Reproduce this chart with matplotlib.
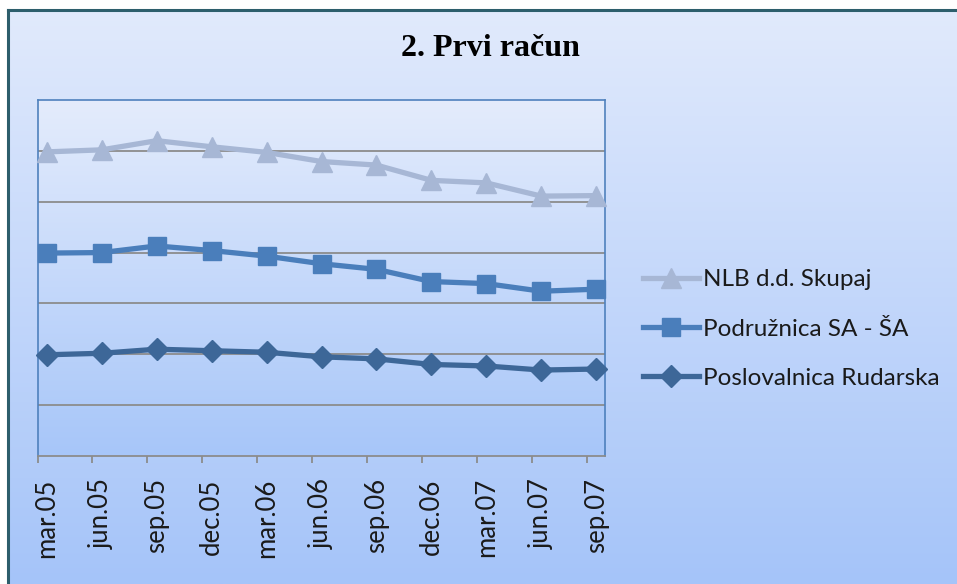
import numpy as np
import matplotlib
matplotlib.use("Agg")
import matplotlib.pyplot as plt
from matplotlib.colors import LinearSegmentedColormap

categories = ["mar.05", "jun.05", "sep.05", "dec.05", "mar.06", "jun.06",
              "sep.06", "dec.06", "mar.07", "jun.07", "sep.07"]
nlb = [5.98, 6.02, 6.20, 6.08, 5.97, 5.79, 5.72, 5.42, 5.37, 5.11, 5.12]
podruznica = [3.99, 4.00, 4.13, 4.04, 3.93, 3.78, 3.67, 3.43, 3.39, 3.24, 3.28]
rudarska = [1.99, 2.02, 2.10, 2.07, 2.04, 1.95, 1.91, 1.80, 1.77, 1.69, 1.71]
series_names = ["NLB d.d. Skupaj", "Podružnica SA - ŠA", "Poslovalnica Rudarska"]
title = "2. Prvi račun"

W, H = 957, 584
fig = plt.figure(figsize=(W / 100, H / 100), dpi=100)
fig.patch.set_facecolor("white")

# outer chart background with gradient
bg_ax = fig.add_axes([8 / W, 0, 1 - 8 / W, (H - 10) / H])
bg_cmap = LinearSegmentedColormap.from_list("bg", ["#E1EAFC", "#A5C4F9"])
bg_ax.imshow(np.linspace(0, 1, 256).reshape(-1, 1), aspect="auto", cmap=bg_cmap,
             extent=[0, 1, 0, 1], origin="upper")
bg_ax.set_xlim(0, 1)
bg_ax.set_ylim(0, 1)
bg_ax.set_xticks([])
bg_ax.set_yticks([])
for s in ["right", "bottom"]:
    bg_ax.spines[s].set_visible(False)
for s in ["left", "top"]:
    bg_ax.spines[s].set_color("#2D5E6C")
    bg_ax.spines[s].set_linewidth(2.2)

# plot area
left, right, top, bottom = 37.5, 605, 100, 456
ax = fig.add_axes([left / W, (H - bottom) / H, (right - left) / W, (bottom - top) / H])
ax.set_zorder(2)
x = np.arange(len(categories))
ax.set_xlim(-0.17, 10.16)
ax.set_ylim(0, 7)
pa_cmap = LinearSegmentedColormap.from_list("pa", ["#E4ECFC", "#A7C6F9"])
ax.imshow(np.linspace(0, 1, 256).reshape(-1, 1), aspect="auto", cmap=pa_cmap,
          extent=[-0.17, 10.16, 0, 7], origin="upper", zorder=0)
ax.set_facecolor("none")

for yv in range(1, 7):
    ax.axhline(yv, color="#8C8C8C", lw=1.3, zorder=1)

ax.plot(x, nlb, color="#A7B7D5", lw=3.8, marker="^", ms=14, mec="#A7B7D5",
        mfc="#A7B7D5", label=series_names[0], zorder=3, clip_on=False)
ax.plot(x, podruznica, color="#4A7EBB", lw=3.8, marker="s", ms=13, mec="#4A7EBB",
        mfc="#4A7EBB", label=series_names[1], zorder=4, clip_on=False)
ax.plot(x, rudarska, color="#3D6798", lw=3.8, marker="D", ms=11, mec="#3D6798",
        mfc="#3D6798", label=series_names[2], zorder=5, clip_on=False)

ax.set_yticks([])
ax.set_xticks(x)
ax.set_xticklabels(categories, rotation=90, fontsize=18.5, family="Lato", color="#1A1A1A")
ax.tick_params(axis="x", which="major", length=0, pad=16)
ax.set_xticks(x - 0.17, minor=True)
ax.tick_params(axis="x", which="minor", length=5, width=1.3, color="#8C8C8C")
for s in ["left", "top", "right"]:
    ax.spines[s].set_color("#4F81BD")
    ax.spines[s].set_linewidth(1.2)
ax.spines["bottom"].set_color("#8C8C8C")
ax.spines["bottom"].set_linewidth(1.3)

fig.text(490 / W, 1 - 49 / H, title, ha="center", va="center", fontsize=23,
         fontweight="bold", family="Liberation Serif", color="black")

handles, labels = ax.get_legend_handles_labels()
leg = fig.legend(handles, labels, loc="center left", bbox_to_anchor=(643 / W, 1 - 329 / H),
                 frameon=False, prop={"family": "Lato", "size": 17.5},
                 handlelength=2.3, handletextpad=0.15, labelspacing=1.17, borderaxespad=0,
                 borderpad=0)
for t in leg.get_texts():
    t.set_color("#1A1A1A")

fig.savefig("out.png", dpi=100)
